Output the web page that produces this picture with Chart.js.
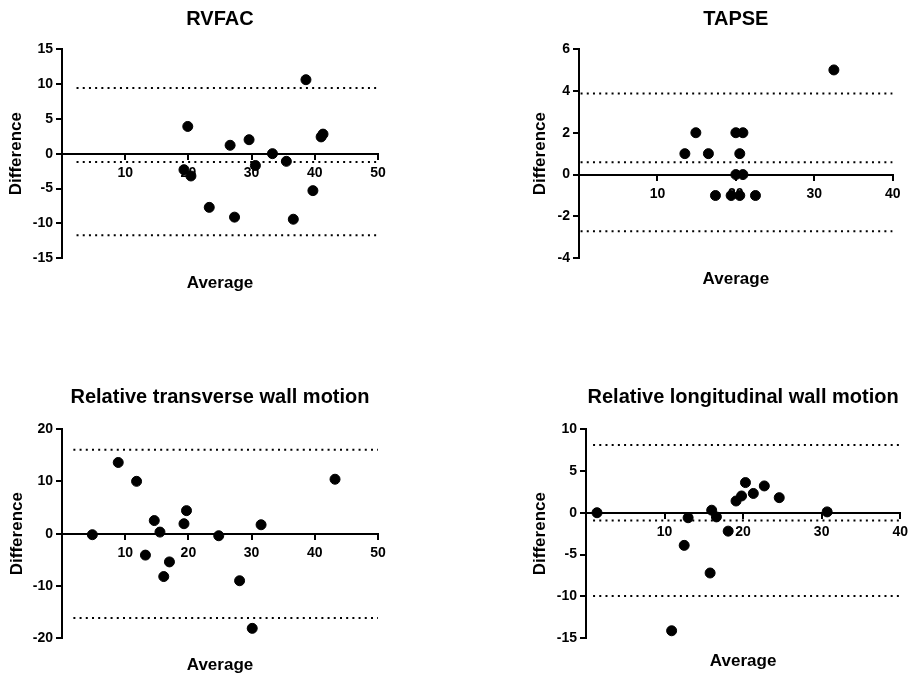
<!DOCTYPE html>
<html>
<head>
<meta charset="utf-8">
<script src="https://cdn.jsdelivr.net/npm/chart.js@4.4.1/dist/chart.umd.min.js"></script>
<style>
  body { margin: 0; background: #fff; }
  #wrap { position: relative; width: 914px; height: 678px; }
  canvas { position: absolute; }
</style>
</head>
<body>
<div id="wrap">
  <canvas id="rvfac" width="457" height="339" style="left:0;top:0"></canvas>
  <canvas id="tapse" width="457" height="339" style="left:457px;top:0"></canvas>
  <canvas id="trans" width="457" height="339" style="left:0;top:339px"></canvas>
  <canvas id="long" width="457" height="339" style="left:457px;top:339px"></canvas>
</div>
<script>
// Bland-Altman data: average vs difference
const rvfacAvg  = [19.3, 19.9, 20.4, 23.3, 26.6, 27.3, 29.6, 30.6, 33.3, 35.5, 36.6, 38.6, 39.7, 41.0, 41.3];
const rvfacDiff = [-2.3, 3.9, -3.2, -7.7, 1.2, -9.1, 2.0, -1.7, 0.0, -1.1, -9.4, 10.6, -5.3, 2.4, 2.8];
const rvfacLimits = [9.4, -1.2, -11.7];

const tapseAvg  = [13.5, 14.9, 16.5, 17.4, 19.4, 20.0, 20.0, 20.5, 20.5, 20.9, 20.9, 22.5, 32.5];
const tapseDiff = [1, 2, 1, -1, -1, 2, 0, 1, -1, 2, 0, -1, 5];
const tapseLimits = [3.87, 0.59, -2.71];

const transAvg  = [4.8, 8.9, 11.8, 13.2, 14.6, 15.5, 16.1, 17.0, 19.3, 19.7, 24.8, 28.1, 30.1, 31.5, 43.2];
const transDiff = [-0.2, 13.6, 10.0, -4.1, 2.5, 0.3, -8.2, -5.4, 1.9, 4.4, -0.4, -9.0, -18.1, 1.7, 10.4];
const transLimits = [16.05, -16.1];

const longAvg  = [1.4, 10.9, 12.5, 13.0, 15.8, 16.0, 16.6, 18.1, 19.1, 19.8, 20.3, 21.3, 22.7, 24.6, 30.7];
const longDiff = [0.0, -14.1, -3.9, -0.6, -7.2, 0.3, -0.5, -2.2, 1.4, 2.0, 3.6, 2.3, 3.2, 1.8, 0.1];
const longLimits = [8.09, -0.92, -9.96];

const FONT = "'Liberation Sans', Arial, Helvetica, sans-serif";

function createPanel(id, o) {
  const points = o.avg.map((a, i) => ({ x: a, y: o.diff[i] }));
  // dotted bias / limits of agreement lines
  const limitSets = o.limits.map(v => ({
    data: [{ x: o.lineFrom, y: v }, { x: o.xMax, y: v }],
    showLine: true,
    borderColor: '#000',
    borderWidth: 2,
    borderDash: [2, 4.2],
    pointRadius: 0,
    fill: false
  }));

  return new Chart(document.getElementById(id), {
    type: 'scatter',
    data: {
      datasets: [{
        data: points,
        backgroundColor: '#000',
        borderColor: '#000',
        pointRadius: 5,
        pointHoverRadius: 5
      }].concat(limitSets)
    },
    options: {
      responsive: false,
      animation: false,
      events: [],
      layout: { padding: { left: o.padLeft, right: o.padRight, top: 0, bottom: o.padBottom } },
      plugins: {
        legend: { display: false },
        tooltip: { enabled: false },
        title: {
          display: true,
          text: o.title,
          color: '#000',
          fullSize: false,
          font: { family: FONT, size: 20, weight: 'bold' },
          padding: { top: o.titleTop, bottom: o.titleBottom }
        },
        subtitle: {
          display: true,
          position: 'bottom',
          text: 'Average',
          color: '#000',
          fullSize: false,
          font: { family: FONT, size: 17, weight: 'bold' },
          padding: { top: o.avgTop, bottom: 0 }
        }
      },
      scales: {
        x: {
          type: 'linear',
          position: { y: 0 },
          min: 0,
          max: o.xMax,
          ticks: {
            stepSize: 10,
            color: '#000',
            padding: 6,
            maxRotation: 0,
            font: { family: FONT, size: 14, weight: 'bold' },
            callback: v => (v === 0 ? '' : v)
          },
          grid: {
            drawOnChartArea: false,
            tickLength: 5,
            lineWidth: 2,
            color: ctx => (ctx.tick && ctx.tick.value === 0 ? 'rgba(0,0,0,0)' : '#000')
          },
          border: { color: '#000', width: 2 }
        },
        y: {
          type: 'linear',
          position: 'left',
          min: o.yMin,
          max: o.yMax,
          afterFit: s => { s.width = o.yWidth; },
          ticks: {
            stepSize: o.yStep,
            color: '#000',
            padding: 3,
            font: { family: FONT, size: 14, weight: 'bold' }
          },
          grid: { drawOnChartArea: false, tickLength: 6, lineWidth: 2, color: '#000' },
          border: { color: '#000', width: 2 },
          title: {
            display: true,
            text: 'Difference',
            color: '#000',
            font: { family: FONT, size: 17, weight: 'bold' },
            padding: { top: 4, bottom: 4 }
          }
        }
      }
    }
  });
}

createPanel('rvfac', {
  title: 'RVFAC', avg: rvfacAvg, diff: rvfacDiff, limits: rvfacLimits,
  xMax: 50, lineFrom: 2.3, yMin: -15, yMax: 15, yStep: 5,
  padLeft: 1.8, yWidth: 60.2, padRight: 79, padBottom: 45.5,
  titleTop: 7.3, titleBottom: 17.7, avgTop: 14.8
});

createPanel('tapse', {
  title: 'TAPSE', avg: tapseAvg, diff: tapseDiff, limits: tapseLimits,
  xMax: 40, lineFrom: 0.2, yMin: -4, yMax: 6, yStep: 2,
  padLeft: 68.8, yWidth: 53.2, padRight: 21.3, padBottom: 49.5,
  titleTop: 7.3, titleBottom: 17.7, avgTop: 10.8
});

createPanel('trans', {
  title: 'Relative transverse wall motion', avg: transAvg, diff: transDiff, limits: transLimits,
  xMax: 50, lineFrom: 1.8, yMin: -20, yMax: 20, yStep: 10,
  padLeft: 2.8, yWidth: 59.2, padRight: 79, padBottom: 2.8,
  titleTop: 46.3, titleBottom: 19.7, avgTop: 16.5
});

createPanel('long', {
  title: 'Relative longitudinal wall motion', avg: longAvg, diff: longDiff, limits: longLimits,
  xMax: 40, lineFrom: 0.9, yMin: -15, yMax: 10, yStep: 5,
  padLeft: 68.8, yWidth: 60.2, padRight: 10, padBottom: 6.1,
  titleTop: 46.3, titleBottom: 19.7, avgTop: 13.2
});
</script>
</body>
</html>
